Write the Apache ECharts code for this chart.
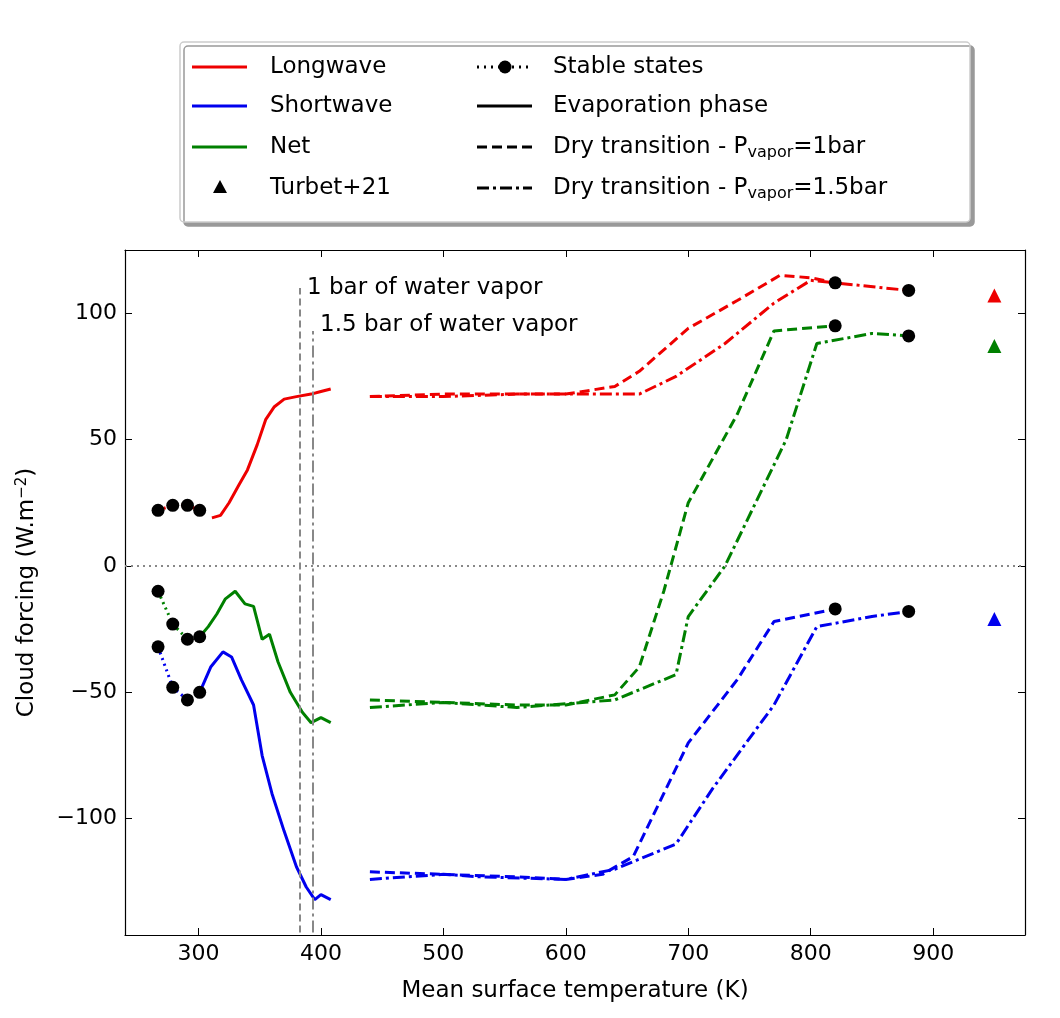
<!DOCTYPE html>
<html><head><meta charset="utf-8">
<script src="https://cdn.jsdelivr.net/npm/echarts@6/dist/echarts.min.js"></script>
<style>body{margin:0;background:#fff}#c{width:1060px;height:1018px}</style>
</head><body><div id="c"></div>
<script>
// stable states
const stableT = [267, 279, 291, 301];
const lwStable = [22, 24, 24, 22];
const netStable = [-10, -23, -29, -28];
const swStable = [-32, -48, -53, -50];
const hotStable = [[820, 112, 95, -17], [880, 109, 91, -18]]; // T, LW, Net, SW

// evaporation phase
const lwEvap = [[311,19],[318,20],[325,25],[333,32],[340,38],[348,48],[355,58],[362,63],[370,66],[380,67],[392,68],[400,69],[408,70]];
const netEvap = [[301,-28],[308,-24],[315,-19],[322,-13],[330,-10],[338,-15],[345,-16],[352,-29],[358,-27],[365,-38],[375,-50],[385,-58],[392,-62],[400,-60],[408,-62]];
const swEvap = [[301,-50],[310,-40],[320,-34],[327,-36],[335,-45],[345,-55],[352,-75],[360,-90],[370,-105],[380,-119],[388,-127],[395,-132],[400,-130],[408,-132]];

// dry transition, 1 bar
const lwDry1 = [[440,67],[500,68],[560,68],[600,68],[640,71],[660,77],[700,94],[740,105],[775,115],[800,114],[820,112]];
const netDry1 = [[440,-53],[500,-54],[560,-55],[600,-55],[640,-51],[660,-40],[680,-10],[700,25],[740,60],[770,93],[820,95]];
const swDry1 = [[440,-121],[500,-122],[560,-123],[600,-124],[630,-122],[655,-115],[700,-70],[740,-45],[770,-22],[820,-17]];

// dry transition, 1.5 bar
const lwDry15 = [[440,67],[500,67],[560,68],[620,68],[660,68],[690,75],[730,88],[770,104],[800,113],[820,112],[880,109]];
const netDry15 = [[440,-56],[500,-54],[560,-56],[640,-53],[690,-43],[700,-20],[730,0],[760,30],[780,50],[805,88],[850,92],[880,91]];
const swDry15 = [[440,-124],[500,-122],[530,-123],[600,-124],[640,-120],[690,-110],[720,-88],[770,-55],[805,-24],[850,-20],[880,-18]];

// Turbet+21
const turbetT = 950;
const turbet = [107, 87, -21];

const RED = '#ee0000', BLUE = '#0000ee', GREEN = '#008000';
const DASH = [10, 5], DASHDOT = [12, 4, 3, 4];

function line(data, color, type) {
  return { type: 'line', data: data, symbol: 'none', lineStyle: { color: color, width: 3, type: type }, z: 3 };
}
function dots(ys, xs) {
  return { type: 'scatter', data: xs.map((x, i) => [x, ys[i]]), symbolSize: 13, itemStyle: { color: '#000', opacity: 1 }, z: 5 };
}

let series = [
  line(stableT.map((x, i) => [x, lwStable[i]]), RED, [2, 4]),
  line(stableT.map((x, i) => [x, netStable[i]]), GREEN, [2, 4]),
  line(stableT.map((x, i) => [x, swStable[i]]), BLUE, [2, 4]),
  line(lwEvap, RED, 'solid'), line(netEvap, GREEN, 'solid'), line(swEvap, BLUE, 'solid'),
  line(lwDry1, RED, DASH), line(netDry1, GREEN, DASH), line(swDry1, BLUE, DASH),
  line(lwDry15, RED, DASHDOT), line(netDry15, GREEN, DASHDOT), line(swDry15, BLUE, DASHDOT),
  dots(lwStable, stableT), dots(netStable, stableT), dots(swStable, stableT),
  { type: 'scatter', symbolSize: 13, itemStyle: { color: '#000', opacity: 1 }, z: 5,
    data: hotStable.flatMap(r => [[r[0], r[1]], [r[0], r[2]], [r[0], r[3]]]) },
  { type: 'scatter', symbol: 'triangle', symbolSize: 14, z: 5,
    data: turbet.map((v, i) => ({ value: [turbetT, v], itemStyle: { color: [RED, GREEN, BLUE][i], opacity: 1 } })) },
  { type: 'line', data: [], markLine: { symbol: 'none', silent: true, label: { show: false },
      data: [
        { yAxis: 0, lineStyle: { color: '#888', type: [2, 4], width: 2 } },
        [{ coord: [383, -145] , lineStyle: { color: '#888', type: [7, 4], width: 2 } }, { coord: [383, 110] }],
        [{ coord: [393, -145], lineStyle: { color: '#888', type: DASHDOT, width: 2 } }, { coord: [393, 93] }]
      ] } }
];

const font = 'DejaVu Sans';
const axLine = { onZero: false, lineStyle: { color: '#000', width: 1.2 } };
const xTicks = [300, 400, 500, 600, 700, 800, 900];
const yTicks = [-100, -50, 0, 50, 100];
const tick = vals => ({ inside: true, length: 7, customValues: vals, lineStyle: { color: '#000' } });

const chart = echarts.init(document.getElementById('c'));
chart.setOption({
  animation: false,
  textStyle: { fontFamily: font },
  grid: { left: 125, right: 35, top: 250, bottom: 83 },
  xAxis: [
    { type: 'value', min: 240, max: 975, name: 'Mean surface temperature (K)', nameLocation: 'middle', nameGap: 45,
      nameTextStyle: { fontSize: 23, color: '#000' }, axisLine: axLine, splitLine: { show: false },
      axisLabel: { fontSize: 22, color: '#000', customValues: xTicks }, axisTick: tick(xTicks) },
    { type: 'value', position: 'top', min: 240, max: 975, axisLabel: { show: false }, axisLine: axLine,
      splitLine: { show: false }, axisTick: tick(xTicks) }
  ],
  yAxis: [
    { type: 'value', min: -146, max: 125, name: 'Cloud forcing (W.m{s|−2})', nameLocation: 'middle', nameGap: 85,
      nameTextStyle: { fontSize: 23, color: '#000', rich: { s: { fontSize: 15, verticalAlign: 'top', padding: [0, 0, 10, 0] } } },
      axisLine: axLine, splitLine: { show: false },
      axisLabel: { fontSize: 22, color: '#000', customValues: yTicks, formatter: v => String(v).replace('-', '−') },
      axisTick: tick(yTicks) },
    { type: 'value', position: 'right', min: -146, max: 125, axisLabel: { show: false }, axisLine: axLine,
      splitLine: { show: false }, axisTick: tick(yTicks) }
  ],
  series: series,
  graphic: [
    { type: 'text', left: 307, top: 277, style: { text: '1 bar of water vapor', fontSize: 23, fontFamily: font, fill: '#000' }, z: 10 },
    { type: 'text', left: 320, top: 314, style: { text: '1.5 bar of water vapor', fontSize: 23, fontFamily: font, fill: '#000' }, z: 10 },
    { type: 'rect', shape: { x: 180, y: 42, width: 790, height: 180, r: 4 }, style: { fill: '#fff', stroke: '#ccc', lineWidth: 1.5, shadowBlur: 0, shadowOffsetX: 4, shadowOffsetY: 4, shadowColor: '#999' }, z: 10 },
    ...legendItems()
  ]
});

function legendItems() {
  const out = [];
  const rows = [67, 106, 147, 188];
  const left = [
    { t: 'Longwave', c: RED, k: 'line' }, { t: 'Shortwave', c: BLUE, k: 'line' },
    { t: 'Net', c: GREEN, k: 'line' }, { t: 'Turbet+21', c: '#000', k: 'tri' }];
  const right = [
    { t: 'Stable states', d: [2, 5], k: 'dot' }, { t: 'Evaporation phase', d: 'solid' },
    { t: 'Dry transition - P{s|vapor}=1bar', d: DASH }, { t: 'Dry transition - P{s|vapor}=1.5bar', d: DASHDOT }];
  const txt = (x, y, t) => ({ type: 'text', x: x, y: y, z: 11, style: { text: t, fontSize: 23, fontFamily: font, fill: '#000', verticalAlign: 'middle',
    rich: { s: { fontSize: 16, verticalAlign: 'bottom', padding: [12, 0, 0, 0], fontFamily: font } } } });
  left.forEach((it, i) => {
    const y = rows[i];
    if (it.k === 'line') out.push({ type: 'line', z: 11, shape: { x1: 192, y1: y, x2: 247, y2: y }, style: { stroke: it.c, lineWidth: 3 } });
    else out.push({ type: 'polygon', z: 11, shape: { points: [[220, y - 8], [213, y + 5], [227, y + 5]] }, style: { fill: '#000' } });
    out.push(txt(270, y, it.t));
  });
  right.forEach((it, i) => {
    const y = rows[i];
    out.push({ type: 'line', z: 11, shape: { x1: 477, y1: y, x2: 532, y2: y }, style: { stroke: '#000', lineWidth: 3, lineDash: it.d === 'solid' ? null : it.d } });
    if (it.k === 'dot') out.push({ type: 'circle', z: 12, shape: { cx: 505, cy: y, r: 6.5 }, style: { fill: '#000' } });
    out.push(txt(553, y, it.t));
  });
  return out;
}
</script>
</body></html>
